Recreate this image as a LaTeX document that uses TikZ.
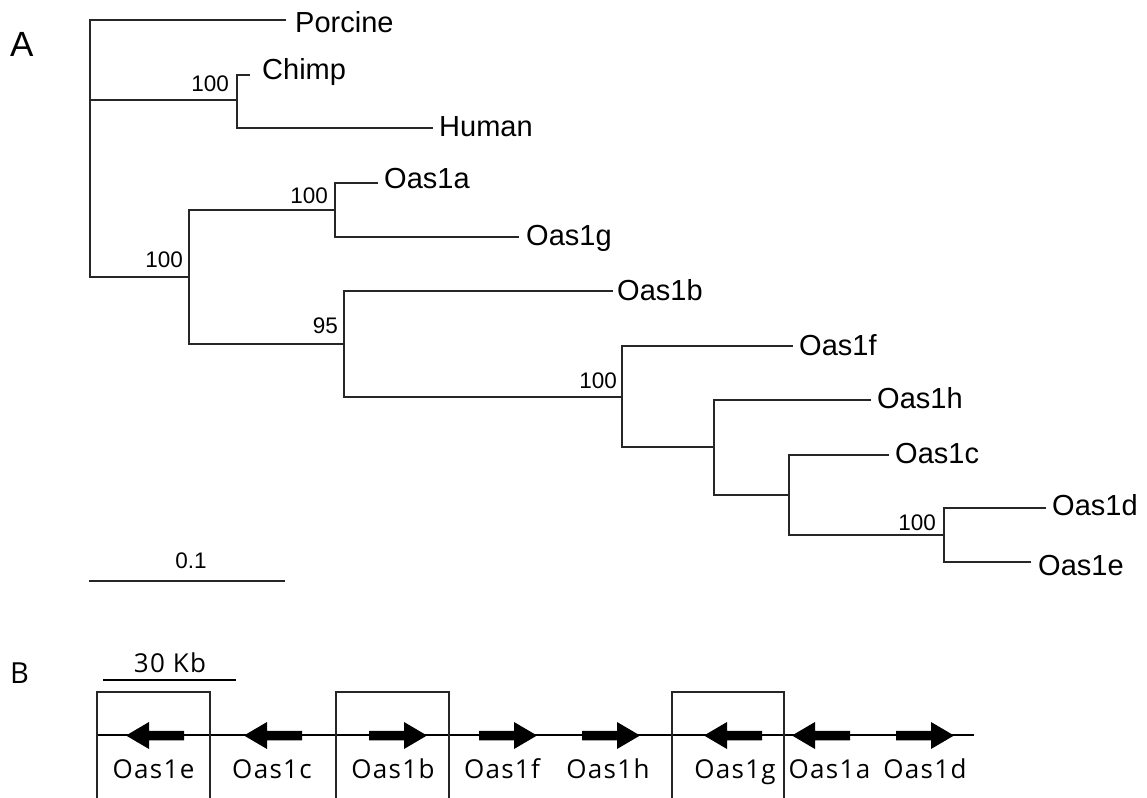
\documentclass[tikz,border=0pt]{standalone}
\usepackage{fontspec}
\setmainfont{Liberation Sans}
\newfontfamily\genefont[LetterSpace=5]{Open Sans}
\newfontfamily\panelfont{Open Sans}

\begin{document}
\begin{tikzpicture}[x=1pt,y=-1pt,
  branch/.style={line width=1.7pt, draw=black!85, line cap=rect},
  leaf/.style={anchor=base west, inner sep=0pt, font=\fontsize{29}{29}\selectfont},
  boot/.style={anchor=base east, inner sep=0pt, font=\fontsize{22.5}{22.5}\selectfont},
  gene/.style={anchor=base, inner sep=0pt, font=\genefont\fontsize{26}{26}\selectfont},
  chrom/.style={line width=1.5pt},
  locus/.style={line width=1.4pt, draw=black!85},
  gene right/.pic={\fill (0,-4.75) -- (35,-4.75) -- (35,-13.5) -- (58,0) -- (35,13.5) -- (35,4.75) -- (0,4.75) -- cycle;},
  gene left/.pic={\fill (0,-4.75) -- (-35,-4.75) -- (-35,-13.5) -- (-58,0) -- (-35,13.5) -- (-35,4.75) -- (0,4.75) -- cycle;},
]
\useasboundingbox (0,0) rectangle (1147,797);

% ---------------- Panel A: phylogeny ----------------
\node[anchor=base west, inner sep=0pt, font=\fontsize{35}{35}\selectfont] (labA) at (10,57) {A};

% internal nodes
\coordinate (root) at (90,100);
\coordinate (ch) at (237,100);
\coordinate (n1) at (189,277);
\coordinate (n2) at (335,210);
\coordinate (n3) at (344,344);
\coordinate (n4) at (622,397);
\coordinate (n5) at (714,447);
\coordinate (n6) at (789,495);
\coordinate (n7) at (944,535);

% branch tips
\coordinate (tPorcine) at (285,20);
\coordinate (tChimp) at (249,75);
\coordinate (tHuman) at (432,128);
\coordinate (tOas1a) at (377,183);
\coordinate (tOas1g) at (518,237);
\coordinate (tOas1b) at (612,291);
\coordinate (tOas1f) at (792,346);
\coordinate (tOas1h) at (870,400);
\coordinate (tOas1c) at (888,455);
\coordinate (tOas1d) at (1045,508);
\coordinate (tOas1e) at (1030,562);

% branches
\draw[branch] (root) |- (tPorcine);
\draw[branch] (root) |- (ch);
\draw[branch] (root) |- (n1);
\draw[branch] (ch) |- (tChimp);
\draw[branch] (ch) |- (tHuman);
\draw[branch] (n1) |- (n2);
\draw[branch] (n1) |- (n3);
\draw[branch] (n2) |- (tOas1a);
\draw[branch] (n2) |- (tOas1g);
\draw[branch] (n3) |- (tOas1b);
\draw[branch] (n3) |- (n4);
\draw[branch] (n4) |- (tOas1f);
\draw[branch] (n4) |- (n5);
\draw[branch] (n5) |- (tOas1h);
\draw[branch] (n5) |- (n6);
\draw[branch] (n6) |- (tOas1c);
\draw[branch] (n6) |- (n7);
\draw[branch] (n7) |- (tOas1d);
\draw[branch] (n7) |- (tOas1e);

% taxon names
\node[leaf] (lPorcine) at (295,33) {Porcine};
\node[leaf] (lChimp) at (262,80) {Chimp};
\node[leaf] (lHuman) at (439,136) {Human};
\node[leaf] (lOas1a) at (384,188.5) {Oas1a};
\node[leaf] (lOas1g) at (526,245) {Oas1g};
\node[leaf] (lOas1b) at (617,300) {Oas1b};
\node[leaf] (lOas1f) at (799,355) {Oas1f};
\node[leaf] (lOas1h) at (877,408.5) {Oas1h};
\node[leaf] (lOas1c) at (895,463.5) {Oas1c};
\node[leaf] (lOas1d) at (1052,515) {Oas1d};
\node[leaf] (lOas1e) at (1038,575) {Oas1e};

% bootstrap support
\node[boot] (bch) at (229,92) {100};
\node[boot] (bn1) at (183,267) {100};
\node[boot] (bn2) at (328,203) {100};
\node[boot] (bn3) at (338,333) {95};
\node[boot] (bn4) at (617,388) {100};
\node[boot] (bn7) at (936,530) {100};

% scale bar
\coordinate (sb1) at (89,581);
\coordinate (sb2) at (285,581);
\draw[branch, line cap=butt] (sb1) -- (sb2);
\node[anchor=base, inner sep=0pt, font=\fontsize{22.5}{22.5}\selectfont] (sbl) at (191,568) {0.1};

% ---------------- Panel B: gene cluster ----------------
\node[anchor=base west, inner sep=0pt, font=\panelfont\fontsize{29}{29}\selectfont] (labB) at (10,683) {B};

% 30 kb scale
\coordinate (kb1) at (103,680);
\coordinate (kb2) at (236,680);
\draw[chrom] (kb1) -- (kb2);
\node[gene] (kbl) at (170,672) {30 Kb};

% chromosome line
\coordinate (c1) at (97,735);
\coordinate (c2) at (974,735);
\draw[chrom] (c1) -- (c2);

% boxed loci
\draw[locus] (97,800) |- (210,692) -- (210,800);
\draw[locus] (336,800) |- (449,692) -- (449,800);
\draw[locus] (672,800) |- (784,692) -- (784,800);

% genes and their orientation
\pic at (184,735.5) {gene left};
\pic at (302,735.5) {gene left};
\pic at (369,735.5) {gene right};
\pic at (479,735.5) {gene right};
\pic at (582,735.5) {gene right};
\pic at (762,735.5) {gene left};
\pic at (850,735.5) {gene left};
\pic at (896,735.5) {gene right};

\node[gene] (gOas1e) at (153.5,778) {Oas1e};
\node[gene] (gOas1c) at (272,778) {Oas1c};
\node[gene] (gOas1b) at (393,778) {Oas1b};
\node[gene] (gOas1f) at (502,778) {Oas1f};
\node[gene] (gOas1h) at (608,778) {Oas1h};
\node[gene] (gOas1g) at (735,778) {Oas1g};
\node[gene] (gOas1a) at (829.5,778) {Oas1a};
\node[gene] (gOas1d) at (925,778) {Oas1d};
\end{tikzpicture}
\end{document}
